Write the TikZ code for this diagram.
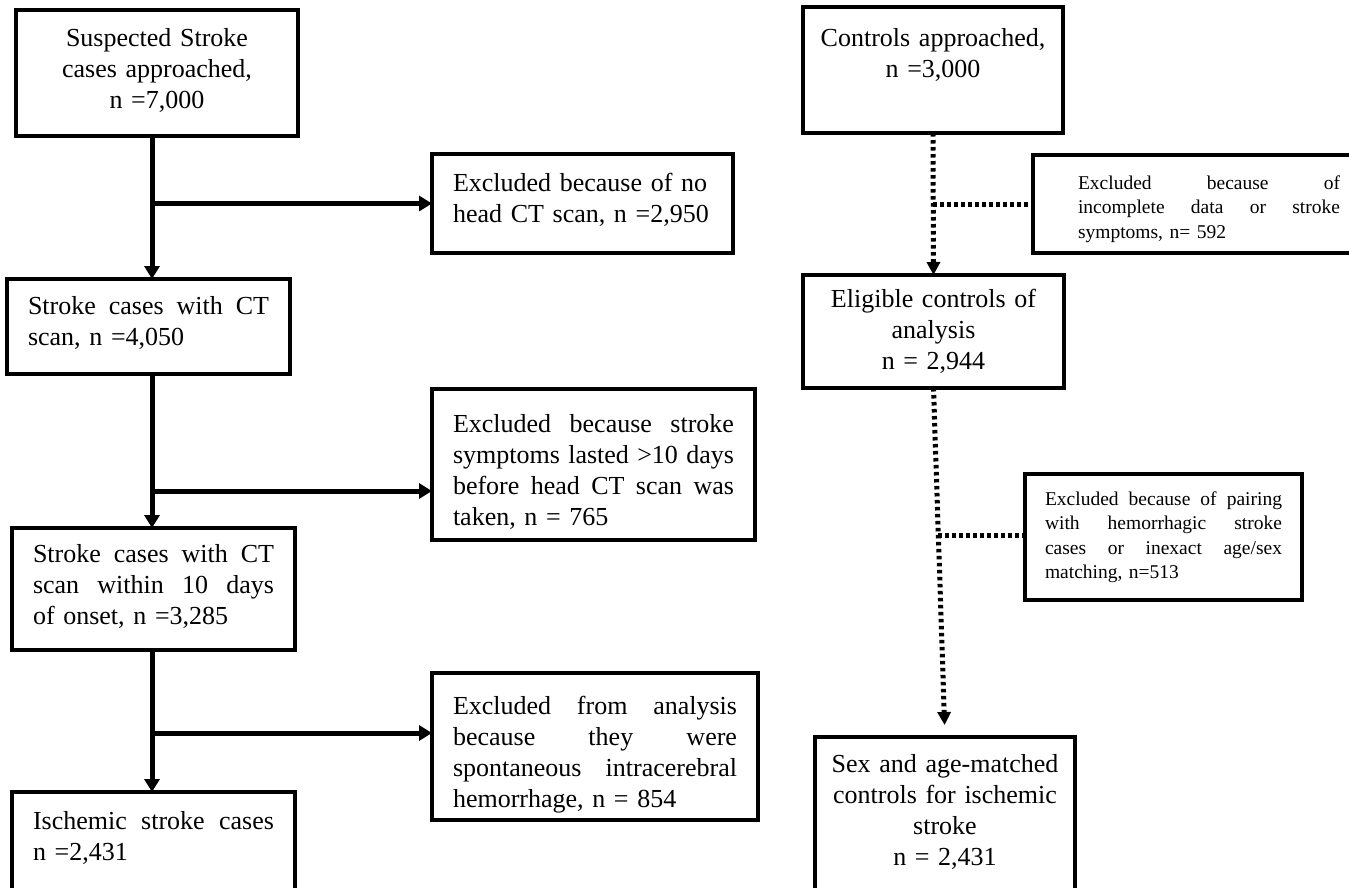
\documentclass[tikz,border=0pt]{standalone}
\usepackage{fontspec}
\setmainfont{Liberation Serif}
\usetikzlibrary{arrows.meta, calc}
\newcommand\boxfont{\fontsize{26}{31}\selectfont}
\newcommand\notefont{\fontsize{19.5}{24.5}\selectfont}
\newlength\jw
\newcommand\jline[1]{\makebox[\jw][s]{\spaceskip=\fontdimen2\font plus 1fil\relax #1}}
\newcommand\lline[1]{\makebox[\jw][l]{#1}}

\begin{document}
\begin{tikzpicture}[
  x=1pt, y=-1pt,
  box/.style={draw, line width=3.6pt, inner ysep=0pt, inner xsep=21pt, outer sep=0pt,
              anchor=base west, align=left, font=\boxfont},
  note/.style={box, font=\notefont},
  tw/.style={text width=#1, execute at begin node={\setlength\jw{#1}}},
  arr/.style={line width=5pt, -{Triangle[length=13pt, width=15pt]}},
  dots/.style={line width=5pt, dash pattern=on 3.5pt off 3.5pt},
  dotarr/.style={dots, -{Triangle[length=13pt, width=13pt]}}
]
\useasboundingbox (0,0) rectangle (1349,887);
\clip (0,0) rectangle (1349,887);

% stroke cases
\node[box, align=center, inner xsep=10pt, tw=262pt, text height=36pt, text depth=90pt] (suspected) at (16,46)
  {Suspected Stroke\\cases approached,\\n =7,000};
\node[box, tw=259pt, text height=37pt, text depth=62pt] (noct) at (432,191)
  {\lline{Excluded because of no}\\\lline{head CT scan, n =2,950}};
\node[box, tw=241pt, text height=35pt, text depth=60pt] (withct) at (7,314)
  {\jline{Stroke cases with CT}\\\lline{scan, n =4,050}};
\node[box, tw=281pt, text height=43pt, text depth=108pt] (lasted) at (432,432)
  {\jline{Excluded because stroke}\\\jline{symptoms lasted >10 days}\\\jline{before head CT scan was}\\\lline{taken, n = 765}};
\node[box, tw=241pt, text height=34pt, text depth=88pt] (within) at (12,562)
  {\jline{Stroke cases with CT}\\\jline{scan within 10 days}\\\lline{of onset, n =3,285}};
\node[box, tw=284pt, text height=41pt, text depth=106pt] (ich) at (432,714)
  {\jline{Excluded from analysis}\\\jline{because they were}\\\jline{spontaneous intracerebral}\\\lline{hemorrhage, n = 854}};
\node[box, tw=241pt, text height=37pt, text depth=71pt] (ischemic) at (12,829)
  {\jline{Ischemic stroke cases}\\\lline{n =2,431}};

% controls
\node[box, align=center, inner xsep=10pt, tw=240pt, text height=39pt, text depth=87pt] (controls) at (803,46)
  {Controls approached,\\n =3,000};
\node[note, inner xsep=45pt, tw=262pt, text height=34pt, text depth=64pt] (incomplete) at (1033,189)
  {\jline{Excluded because of}\\\jline{incomplete data or stroke}\\\lline{symptoms, n= 592}};
\node[box, align=center, inner xsep=10pt, tw=241pt, text height=32pt, text depth=81pt] (eligible) at (803,307)
  {Eligible controls of\\analysis\\n = 2,944};
\node[note, inner xsep=20pt, tw=237pt, text height=31pt, text depth=95pt] (pairing) at (1025,505)
  {\jline{Excluded because of pairing}\\\jline{with hemorrhagic stroke}\\\jline{cases or inexact age/sex}\\\lline{matching, n=513}};
\node[box, align=center, inner xsep=10pt, tw=240pt, text height=35pt, text depth=128pt] (matched) at (815,772)
  {Sex and age-matched\\controls for ischemic\\stroke\\n = 2,431};

% solid flow
\coordinate (spine) at (152,0);
\draw[arr] (suspected.south -| spine) -- (withct.north -| spine);
\draw[arr] (withct.south -| spine) -- (within.north -| spine);
\draw[arr] (within.south -| spine) -- (ischemic.north -| spine);
\draw[arr] (spine |- noct.west) -- (noct.west);
\coordinate (fork2) at (152,491);
\draw[arr] (fork2) -- (fork2 -| lasted.west);
\coordinate (fork3) at (152,733);
\draw[arr] (fork3) -- (fork3 -| ich.west);

% dotted flow
\draw[dotarr] (controls.south) -- (eligible.north);
\coordinate (fork4) at ($(controls.south)!0.5!(eligible.north)$);
\draw[dots] (fork4) -- (fork4 -| incomplete.west);
\draw[dotarr, shorten >=12pt] (eligible.south) -- (matched.north);
\coordinate (fork5) at ($(eligible.south)!0.424!(matched.north)$);
\draw[dots] (fork5) -- (fork5 -| pairing.west);
\end{tikzpicture}
\end{document}
